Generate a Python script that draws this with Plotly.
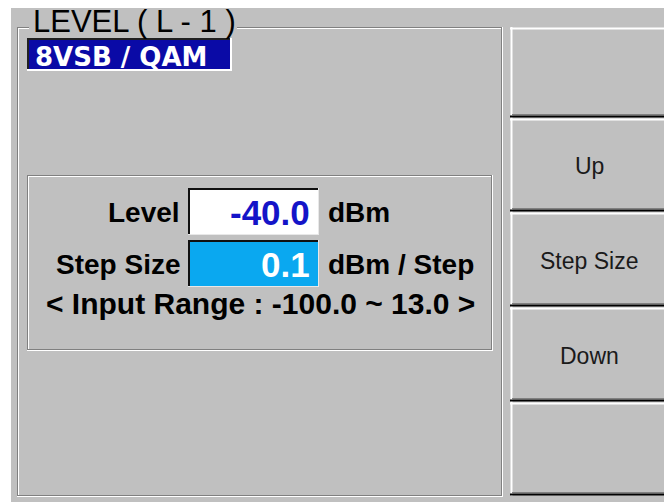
import plotly.graph_objects as go

W, H = 664, 502

# ---- content (texts / values) ----
panel_title = "LEVEL ( L - 1 )"
mode_label = "8VSB / QAM"
field_labels = ["Level", "Step Size"]
field_values = ["-40.0", "0.1"]
field_units = ["dBm", "dBm / Step"]
range_text = "< Input Range : -100.0 ~ 13.0 >"
button_labels = ["", "Up", "Step Size", "Down", ""]

GRAY = "#c0c0c0"
DARK = "#808080"
WHITE = "#ffffff"
FONT = "Liberation Sans, Arial, sans-serif"
WIDE = "DejaVu Sans, Verdana, sans-serif"

fig = go.Figure()
shapes = []
annots = []


def rect(x0, y0, x1, y1, fill):
    shapes.append(dict(type="rect", xref="x", yref="y", x0=x0, y0=y0, x1=x1, y1=y1,
                       fillcolor=fill, line=dict(width=0), layer="above"))


def line(x0, y0, x1, y1, color, w=1):
    shapes.append(dict(type="line", xref="x", yref="y", x0=x0, y0=y0, x1=x1, y1=y1,
                       line=dict(color=color, width=w), layer="above"))


def text(x, y, s, size, color="#000000", bold=False, anchor="left", family=FONT):
    annots.append(dict(x=x, y=y, xref="x", yref="y", text=("<b>%s</b>" % s) if bold else s,
                       showarrow=False, xanchor=anchor, yanchor="middle",
                       font=dict(family=family, size=size, color=color)))


# background
rect(11, 8, W, H, GRAY)

# ---- group box (etched) with title gap ----
gx0, gy0, gx1, gy1 = 17, 27, 502, 496
tx0, tx1 = 29, 237
line(gx0 + .5, gy0, gx0 + .5, gy1, DARK)
line(gx0, gy0 + .5, tx0, gy0 + .5, DARK)
line(tx1, gy0 + .5, gx1, gy0 + .5, DARK)
line(gx1 - .5, gy0, gx1 - .5, gy1, DARK)
line(gx0, gy1 - .5, gx1, gy1 - .5, DARK)
line(gx0 + 1.5, gy0 + 1, gx0 + 1.5, gy1 - 1, WHITE)
line(gx0 + 1, gy0 + 1.5, tx0, gy0 + 1.5, WHITE)
line(tx1, gy0 + 1.5, gx1 - 1, gy0 + 1.5, WHITE)
line(gx1 + .5, gy0, gx1 + .5, gy1 + 1, WHITE)
line(gx0, gy1 + .5, gx1 + 1, gy1 + .5, WHITE)
text(31, 21, panel_title, 31)

# ---- mode box ----
mx0, my0, mx1, my1 = 27, 38, 232, 71
rect(mx0, my0, mx1, my1, "#0a0aa6")
line(mx0, my0 + 1, mx1, my0 + 1, "#202020", 2)
line(mx0 + 1, my0, mx0 + 1, my1, "#202020", 2)
line(mx0, my1 - 1, mx1, my1 - 1, WHITE, 2)
line(mx1 - 1, my0, mx1 - 1, my1, WHITE, 2)
text(33, (my0 + my1) / 2 + 2, mode_label, 26, WHITE, True, "left", WIDE)

# ---- inner box ----
ix0, iy0, ix1, iy1 = 27, 175, 492, 350
line(ix0 + .5, iy0, ix0 + .5, iy1, DARK)
line(ix0, iy0 + .5, ix1, iy0 + .5, DARK)
line(ix1 - .5, iy0, ix1 - .5, iy1, DARK)
line(ix0, iy1 - .5, ix1, iy1 - .5, DARK)
line(ix0 + 1.5, iy0 + 1, ix0 + 1.5, iy1 - 1, WHITE)
line(ix0 + 1, iy0 + 1.5, ix1 - 1, iy0 + 1.5, WHITE)
line(ix1 + .5, iy0, ix1 + .5, iy1 + 1, WHITE)
line(ix0, iy1 + .5, ix1 + 1, iy1 + .5, WHITE)

# ---- fields ----
fx0, fx1 = 188, 319
rows = [(188, 235), (240, 287)]
fills = [WHITE, "#0aa8f0"]
vcolors = ["#1414c8", WHITE]
for (y0, y1), lab, val, unit, fc, vc in zip(rows, field_labels, field_values, field_units, fills, vcolors):
    rect(fx0, y0, fx1, y1, fc)
    line(fx0, y0 + 1, fx1, y0 + 1, "#101010", 2)
    line(fx0 + 1, y0, fx0 + 1, y1, "#101010", 2)
    line(fx0, y1 - .5, fx1, y1 - .5, "#e8e8e8", 1)
    line(fx1 - .5, y0, fx1 - .5, y1, "#e8e8e8", 1)
    cy = (y0 + y1) / 2
    text(182, cy + 1, lab, 28, "#000000", True, "right")
    text(312, cy + 1, val, 35, vc, True, "right")
    text(326, cy + 1, unit, 28, "#000000", True, "left")

text(260, 303, range_text, 30, "#000000", True, "center")

# ---- right button column ----
bx0 = 510
edges = [27, 118, 212, 307, 402, 496]
for i, lab in enumerate(button_labels):
    y0, y1 = edges[i], edges[i + 1]
    line(bx0, y0 + 1.5, W, y0 + 1.5, WHITE, 2)
    line(bx0 + 1.5, y0, bx0 + 1.5, y1, WHITE, 2)
    line(bx0 + 2, y1 - 3.5, W, y1 - 3.5, DARK, 1)
    line(bx0, y1 - 1.5, W, y1 - 1.5, "#000000", 2)
    if lab:
        text((bx0 + W) / 2 + 2, (y0 + y1) / 2 + 1, lab, 23, "#1a1a1a", False, "center")

fig.update_layout(
    width=W, height=H, autosize=False,
    margin=dict(l=0, r=0, t=0, b=0, pad=0),
    paper_bgcolor=WHITE, plot_bgcolor=WHITE,
    xaxis=dict(range=[0, W], visible=False, fixedrange=True),
    yaxis=dict(range=[H, 0], visible=False, fixedrange=True),
    shapes=shapes, annotations=annots, showlegend=False,
)
fig.write_html("out.html", config={"displayModeBar": False},
               post_script="document.body.style.margin='0';document.body.style.overflow='hidden';")
